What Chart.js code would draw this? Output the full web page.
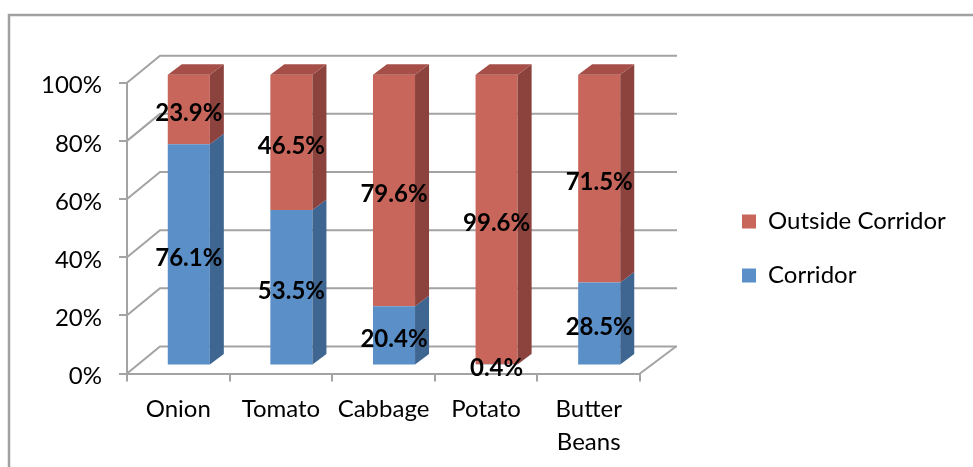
<!DOCTYPE html>
<html>
<head>
<meta charset="utf-8">
<script src="https://cdn.jsdelivr.net/npm/chart.js@4.4.1/dist/chart.umd.min.js"></script>
<style>
  html, body { margin: 0; padding: 0; background: #ffffff; }
  #wrap { position: relative; width: 973px; height: 467px; }
</style>
</head>
<body>
<div id="wrap"><canvas id="chart" width="973" height="467"></canvas></div>
<script>
// Share of production inside / outside the corridor, per crop (percent)
const categories = ['Onion', 'Tomato', 'Cabbage', 'Potato', ['Butter', 'Beans']];
const corridor = [76.1, 53.5, 20.4, 0.4, 28.5];
const outsideCorridor = [23.9, 46.5, 79.6, 99.6, 71.5];
const seriesNames = ['Corridor', 'Outside Corridor'];

// face colours: front, side, top
const palette = [
  { front: '#5B8FC8', side: '#3F6591', top: '#4D7AAE' },
  { front: '#C9665C', side: '#8C423D', top: '#A64F48' }
];

const GRID = '#A3A3A3';
const FONT = 'Lato, "Open Sans", sans-serif';

// pseudo-3D geometry (pixels)
const WALL_DX_LEFT = 33, WALL_DX_RIGHT = 36, WALL_DY = -27;
const BAR_DX = 10.5, BAR_DY = -8;
const SIDE_DX = 14, SIDE_DY = -10.5;

const depth3d = {
  id: 'depth3d',
  beforeDraw(chart) {
    const ctx = chart.ctx;
    ctx.save();
    ctx.strokeStyle = '#A0A0A0';
    ctx.lineWidth = 2.5;
    ctx.beginPath();
    ctx.moveTo(9, 480);
    ctx.lineTo(9, 15);
    ctx.lineTo(990, 15);
    ctx.stroke();
    ctx.restore();
  },
  beforeDatasetsDraw(chart) {
    const ctx = chart.ctx;
    const area = chart.chartArea;
    const y = chart.scales.y;
    ctx.save();
    ctx.strokeStyle = GRID;
    ctx.lineWidth = 2;
    ctx.lineCap = 'butt';
    y.ticks.forEach(t => {
      const py = y.getPixelForValue(t.value);
      ctx.beginPath();
      ctx.moveTo(area.left, py);
      ctx.lineTo(area.left + WALL_DX_LEFT, py + WALL_DY);
      ctx.lineTo(area.right + WALL_DX_RIGHT + 1, py + WALL_DY);
      ctx.stroke();
    });
    // right edge of the floor
    ctx.beginPath();
    ctx.moveTo(area.right, area.bottom);
    ctx.lineTo(area.right + WALL_DX_RIGHT, area.bottom + WALL_DY);
    ctx.stroke();
    ctx.restore();
    // bars stand in the middle of the floor depth
    ctx.save();
    ctx.translate(BAR_DX, BAR_DY);
  },
  afterDatasetsDraw(chart) {
    const ctx = chart.ctx;
    const last = chart.data.datasets.length - 1;
    chart.data.datasets.forEach((ds, di) => {
      const meta = chart.getDatasetMeta(di);
      meta.data.forEach(bar => {
        const p = bar.getProps(['x', 'y', 'base', 'width'], true);
        const l = p.x - p.width / 2, r = p.x + p.width / 2;
        const top = Math.min(p.y, p.base), bot = Math.max(p.y, p.base);
        ctx.fillStyle = palette[di].side;
        ctx.beginPath();
        ctx.moveTo(r, top);
        ctx.lineTo(r + SIDE_DX, top + SIDE_DY);
        ctx.lineTo(r + SIDE_DX, bot + SIDE_DY);
        ctx.lineTo(r, bot);
        ctx.closePath();
        ctx.fill();
        if (di === last) {
          ctx.fillStyle = palette[di].top;
          ctx.beginPath();
          ctx.moveTo(l, top);
          ctx.lineTo(l + SIDE_DX, top + SIDE_DY);
          ctx.lineTo(r + SIDE_DX, top + SIDE_DY);
          ctx.lineTo(r, top);
          ctx.closePath();
          ctx.fill();
        }
      });
    });
    // value labels centred on each segment
    ctx.fillStyle = '#000000';
    ctx.font = 'bold 24px ' + FONT;
    ctx.textAlign = 'center';
    ctx.textBaseline = 'middle';
    chart.data.datasets.forEach((ds, di) => {
      const meta = chart.getDatasetMeta(di);
      meta.data.forEach((bar, i) => {
        const p = bar.getProps(['x', 'y', 'base'], true);
        ctx.fillText(ds.data[i].toFixed(1) + '%', p.x, (p.y + p.base) / 2 + 4);
      });
    });
    ctx.restore();
  },
  afterLayout(chart) {
    // legend block placed to the right of the plot
    const lg = chart.legend;
    const pad = lg.options.labels.padding;
    const w = lg.width, h = lg.height;
    lg.left = 742 - pad; lg.right = lg.left + w;
    lg.top = 209.5 - pad; lg.bottom = lg.top + h;
  }
};

new Chart(document.getElementById('chart'), {
  type: 'bar',
  data: {
    labels: categories,
    datasets: [
      { label: seriesNames[0], data: corridor, backgroundColor: palette[0].front, clip: false },
      { label: seriesNames[1], data: outsideCorridor, backgroundColor: palette[1].front, clip: false }
    ]
  },
  options: {
    responsive: false,
    animation: false,
    devicePixelRatio: 1,
    layout: { padding: { left: 0, top: 82.7, right: 333, bottom: 3.5 } },
    datasets: { bar: { barPercentage: 0.41, categoryPercentage: 1 } },
    plugins: {
      tooltip: { enabled: false },
      legend: {
        position: 'chartArea',
        align: 'start',
        reverse: true,
        labels: {
          boxWidth: 14,
          boxHeight: 14,
          padding: 30,
          color: '#000000',
          font: { family: FONT, size: 24 }
        }
      }
    },
    scales: {
      x: {
        stacked: true,
        afterFit(s) { s.height = 90; },
        border: { display: true, color: GRID, width: 2 },
        grid: { drawOnChartArea: false, drawTicks: true, tickLength: 8, color: GRID, lineWidth: 2 },
        ticks: { color: '#000000', padding: 12, maxRotation: 0, autoSkip: false,
                 font: { family: FONT, size: 24, lineHeight: 1.35 } }
      },
      y: {
        stacked: true,
        min: 0,
        max: 100,
        afterFit(s) { s.width = 127; },
        border: { display: true, color: GRID, width: 2 },
        grid: { drawOnChartArea: false, drawTicks: true, tickLength: 8, color: GRID, lineWidth: 2 },
        ticks: { stepSize: 20, color: '#000000', padding: 17, labelOffset: 3,
                 font: { family: FONT, size: 24 },
                 callback: v => v + '%' }
      }
    }
  },
  plugins: [depth3d]
});
</script>
</body>
</html>
